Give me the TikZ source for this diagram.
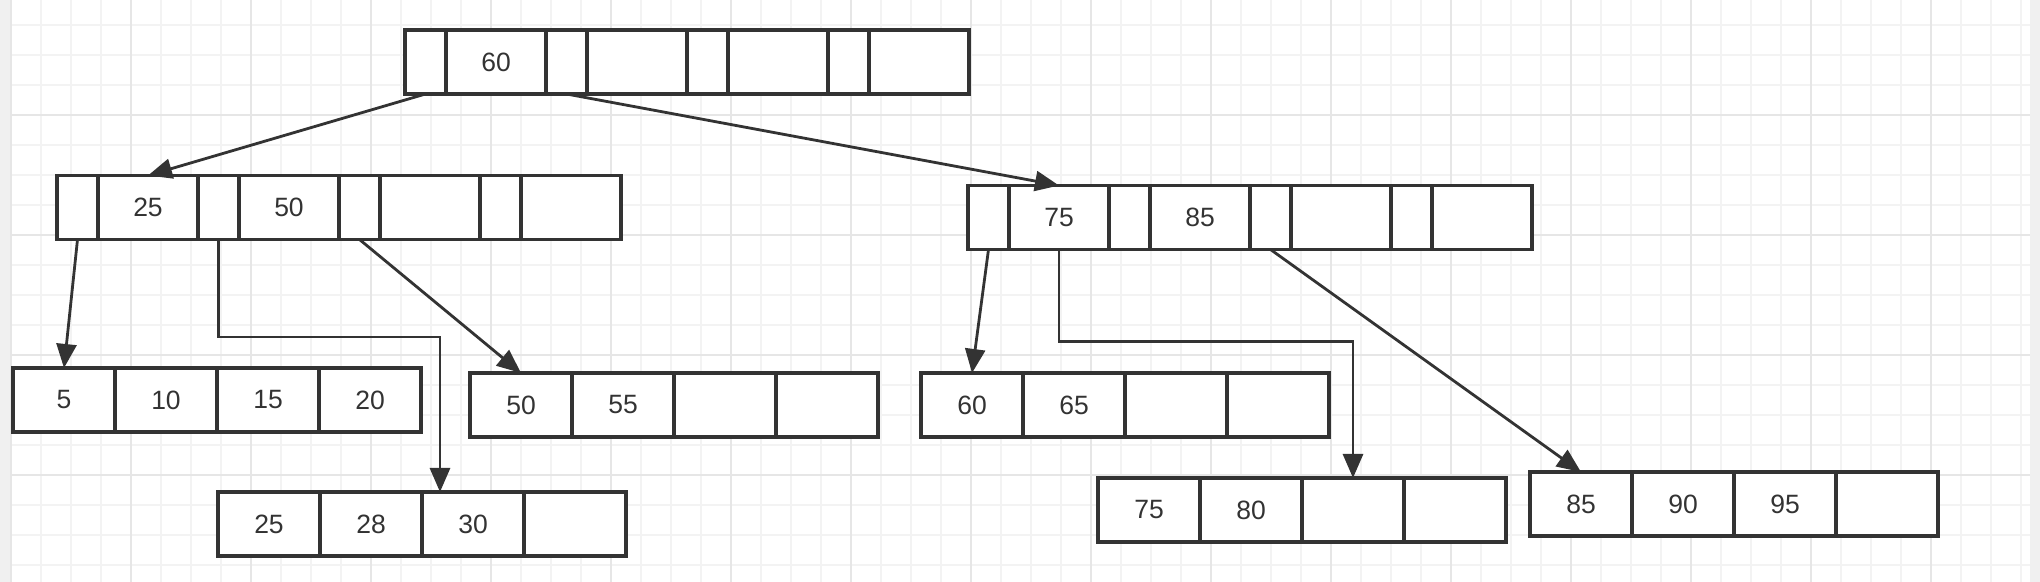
\documentclass[tikz,border=0pt]{standalone}
\usepackage{fontspec}
\setmainfont{Liberation Sans}
\usetikzlibrary{positioning,arrows.meta}

\definecolor{ink}{HTML}{333333}
\definecolor{gridminor}{HTML}{F3F3F3}
\definecolor{gridmajor}{HTML}{E6E6E6}
\definecolor{strip}{HTML}{F0F0F0}

\tikzset{
  cell/.style={draw=ink, fill=white, line width=1.6pt, minimum height=32pt,
    inner sep=0pt, outer sep=0pt, text=ink, font=\fontsize{13.25}{15}\selectfont},
  ptr/.style={cell, minimum width=20.5pt},
  key/.style={cell, minimum width=50pt},
  leaf/.style={cell, minimum width=51pt},
  link/.style={draw=ink, line width=1.4pt, -{Triangle[length=12pt, width=10pt]}},
  minorline/.style={draw=gridminor, line width=0.75pt},
  majorline/.style={draw=gridmajor, line width=1pt},
}

\begin{document}
\begin{tikzpicture}[x=0.5pt, y=-0.5pt]
\useasboundingbox (0,0) rectangle (2040,582);

% background grid
\fill[white] (0,0) rectangle (2040,582);
\fill[strip] (0,0) rectangle (11,582);
\fill[strip] (2030,0) rectangle (2040,582);
\foreach \x in {41,71,...,2021} \draw[minorline] (\x,0) -- (\x,582);
\foreach \y in {25,55,...,565} \draw[minorline] (11,\y) -- (2030,\y);
\foreach \x in {11,131,...,1931} \draw[majorline] (\x,0) -- (\x,582);
\foreach \y in {115,235,...,475} \draw[majorline] (11,\y) -- (2030,\y);

% inner nodes: pointer | key | pointer | key ...
\foreach \name/\x/\y/\a/\b in {root/405/62/60/{}, L1/57/207.5/25/50, R1/968/217.5/75/85} {
  \node[ptr, anchor=west] (\name-p1) at (\x,\y) {};
  \node[key, right=0pt of \name-p1] (\name-k1) {\a};
  \node[ptr, right=0pt of \name-k1] (\name-p2) {};
  \node[key, right=0pt of \name-p2] (\name-k2) {\b};
  \node[ptr, right=0pt of \name-k2] (\name-p3) {};
  \node[key, right=0pt of \name-p3] (\name-k3) {};
  \node[ptr, right=0pt of \name-k3] (\name-p4) {};
  \node[key, right=0pt of \name-p4] (\name-k4) {};
}

% leaves
\foreach \name/\x/\y/\a/\b/\c/\d in {A/13/400/5/10/15/20, B/470/405/50/55/{}/{},
    C/218/524/25/28/30/{}, D/921/405/60/65/{}/{}, E/1098/510/75/80/{}/{},
    F/1530/504/85/90/95/{}} {
  \node[leaf, anchor=west] (\name-1) at (\x,\y) {\a};
  \node[leaf, right=0pt of \name-1] (\name-2) {\b};
  \node[leaf, right=0pt of \name-2] (\name-3) {\c};
  \node[leaf, right=0pt of \name-3] (\name-4) {\d};
}

% links
\draw[link] (root-p1.south) -- (L1-k1.north);
\draw[link] (root-p2.south) -- (R1-k1.north);
\draw[link] (L1-p1.south) -- (A-1.north);
\coordinate (bendC) at (440,337);
\draw[link] (L1-p2.south) |- (bendC) -- (bendC |- C-1.north);
\draw[link] (L1-p3.south) -- (B-1.north);
\draw[link] (R1-p1.south) -- (D-1.north);
\draw[link] (R1-k1.south) -- ++(0,92) -| (E-3.north);
\draw[link] (R1-p3.south) -- (F-1.north);

\end{tikzpicture}
\end{document}
